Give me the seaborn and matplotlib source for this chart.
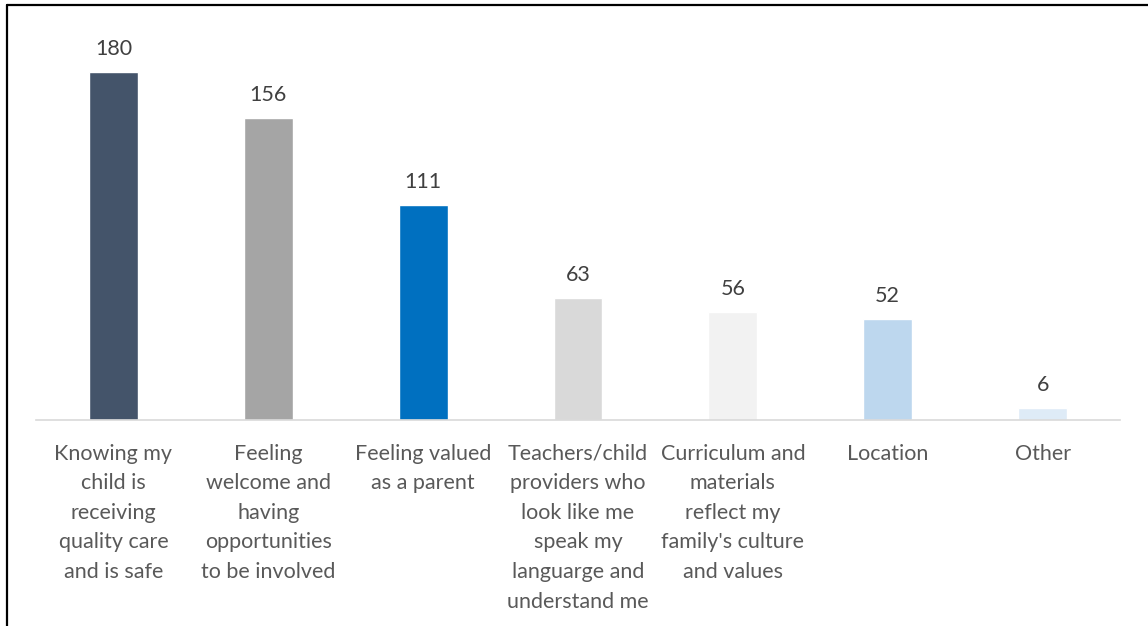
import matplotlib
matplotlib.use("Agg")
import matplotlib.pyplot as plt
from matplotlib.lines import Line2D
import seaborn as sns
import pandas as pd

# Survey responses: what matters most to parents when choosing care
categories = [
    "Knowing my\nchild is\nreceiving\nquality care\nand is safe",
    "Feeling\nwelcome and\nhaving\nopportunities\nto be involved",
    "Feeling valued\nas a parent",
    "Teachers/child\nproviders who\nlook like me\nspeak my\nlanguarge and\nunderstand me",
    "Curriculum and\nmaterials\nreflect my\nfamily's culture\nand values",
    "Location",
    "Other",
]
counts = [180, 156, 111, 63, 56, 52, 6]
bar_colors = ["#44546A", "#A5A5A5", "#0070C0", "#D9D9D9", "#F2F2F2", "#BDD7EE", "#DEEBF7"]

sns.set_style("white")
plt.rcParams["font.family"] = ["Lato", "DejaVu Sans"]

df = pd.DataFrame({"category": categories, "count": counts})

fig = plt.figure(figsize=(11.48, 6.26), dpi=100)
ax = fig.add_axes([0.0314, 0.329, 0.9442, 0.618])

sns.barplot(data=df, x="category", y="count", hue="category",
            palette=bar_colors, width=0.316, legend=False, ax=ax,
            saturation=1)

ax.set_ylim(0, 200)
ax.set_xlim(-0.5, len(categories) - 0.5)
ax.set_xlabel("")
ax.set_ylabel("")
ax.set_yticks([])

for side in ["top", "right", "left"]:
    ax.spines[side].set_visible(False)
ax.spines["bottom"].set_color("#D9D9D9")
ax.spines["bottom"].set_linewidth(1.2)

ax.tick_params(axis="x", length=0, pad=17, labelsize=15.5, labelcolor="#595959")
for lbl in ax.get_xticklabels():
    lbl.set_linespacing(1.6)
    lbl.set_verticalalignment("top")

for container in ax.containers:
    ax.bar_label(container, fmt="%d", padding=9.5, fontsize=15.5, color="#404040")

# Frame lines along the top and left edges
fig.add_artist(Line2D([6.5 / 1148, 1.0], [1 - 4.5 / 626, 1 - 4.5 / 626],
                      transform=fig.transFigure, color="black", linewidth=1.6))
fig.add_artist(Line2D([6.5 / 1148, 6.5 / 1148], [0.0, 1 - 4.5 / 626],
                      transform=fig.transFigure, color="black", linewidth=1.6))

fig.savefig("out.png", dpi=100, facecolor="white")
